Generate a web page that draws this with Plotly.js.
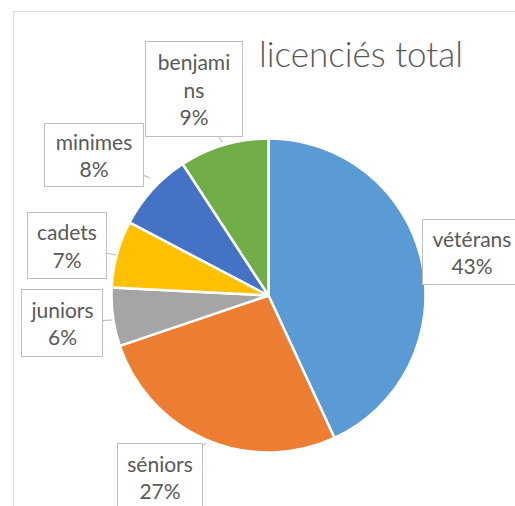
<!DOCTYPE html>
<html>
<head>
<meta charset="utf-8">
<script src="https://cdn.plot.ly/plotly-3.0.1.min.js"></script>
<style>
html,body{margin:0;padding:0;background:#fff;overflow:hidden;}
#frame{position:absolute;left:13px;top:11px;width:700px;height:700px;border:1px solid #D9D9D9;box-sizing:border-box;}
#chart{position:absolute;left:0;top:0;width:515px;height:506px;}
</style>
</head>
<body>
<div id="frame"></div>
<div id="chart"></div>
<script>
const categories = ['vétérans', 'séniors', 'juniors', 'cadets', 'minimes', 'benjamins'];
const values = [43.1, 26.7, 6.0, 6.9, 8.1, 9.2];
const boxLabels = ['vétérans', 'séniors', 'juniors', 'cadets', 'minimes', 'benjami<br>ns'];
const colors = ['#5B9BD5', '#ED7D31', '#A5A5A5', '#FFC000', '#4472C4', '#70AD47'];

const W = 515, H = 506;
const total = values.reduce((a, b) => a + b, 0);
const pct = values.map(v => Math.round(v / total * 100) + '%');

// label box centres / sizes (px) and callout tip (px)
const boxes = [
  {cx: 472, cy: 252, w: 100, h: 66, tx: 424, ty: 245},
  {cx: 160, cy: 477, w: 86, h: 68, tx: 206, ty: 443},
  {cx: 62, cy: 323, w: 82, h: 68, tx: 112, ty: 320},
  {cx: 67, cy: 245, w: 80, h: 67, tx: 116, ty: 255},
  {cx: 94, cy: 155, w: 100, h: 64, tx: 150, ty: 178},
  {cx: 194, cy: 89, w: 98, h: 96, tx: 222, ty: 142}
];

const cx = 268.5, cy = 295.5, r = 157;
const trace = {
  type: 'pie',
  labels: categories,
  values: values,
  sort: false,
  direction: 'clockwise',
  rotation: 0,
  textinfo: 'none',
  hoverinfo: 'label+percent',
  marker: {colors: colors, line: {color: '#FFFFFF', width: 2.5}},
  domain: {x: [(cx - r) / W, (cx + r) / W], y: [(H - cy - r) / H, (H - cy + r) / H]},
  showlegend: false
};

const annotations = categories.map((c, i) => {
  const b = boxes[i];
  return {
    xref: 'paper', yref: 'paper',
    x: b.tx / W, y: 1 - b.ty / H,
    ax: b.cx - b.tx, ay: b.cy - b.ty,
    axref: 'pixel', ayref: 'pixel',
    showarrow: true, arrowhead: 0, arrowwidth: 1.2, arrowcolor: '#BFBFBF',
    text: boxLabels[i] + '<br>' + pct[i],
    font: {family: 'Lato, "Open Sans", sans-serif', size: 21, color: '#595959', weight: 400},
    align: 'center', valign: 'middle',
    width: b.w - 2, height: b.h - 2,
    bordercolor: '#BFBFBF', borderwidth: 1, borderpad: 0,
    bgcolor: '#FFFFFF'
  };
});

const layout = {
  width: W, height: H,
  margin: {l: 0, r: 0, t: 0, b: 0},
  paper_bgcolor: 'rgba(0,0,0,0)',
  plot_bgcolor: 'rgba(0,0,0,0)',
  title: {
    text: 'licenciés total',
    font: {family: 'Lato, "Open Sans", sans-serif', size: 35, color: '#595959', weight: 300},
    x: 361 / W, xanchor: 'center', xref: 'paper',
    y: 1 - 55 / H, yanchor: 'middle', yref: 'container'
  },
  annotations: annotations,
  showlegend: false
};

Plotly.newPlot('chart', [trace], layout, {displayModeBar: false, staticPlot: true});
</script>
</body>
</html>
